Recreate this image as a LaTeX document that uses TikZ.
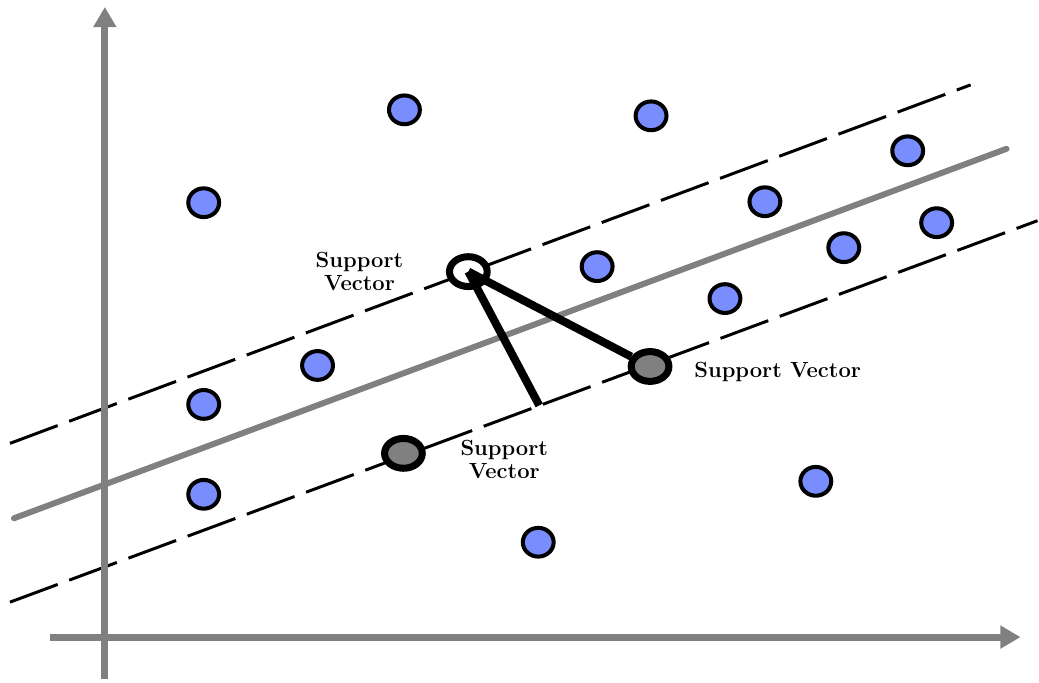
\documentclass[tikz,border=0pt]{standalone}
\usetikzlibrary{shapes,arrows.meta,positioning}
\definecolor{pointblue}{RGB}{122,141,255}
\tikzset{axis/.style={draw=gray,line width=4pt,-{Triangle[length=11.5pt,width=12.5pt]}}}
\tikzset{hyper/.style={draw=gray,line width=3.4pt,line cap=round}}
\tikzset{margin/.style={draw=black,line width=1.7pt,dash pattern=on 29pt off 7pt}}
\tikzset{dist/.style={draw=black,line width=4.6pt}}
\tikzset{point/.style={ellipse,draw,line width=2.3pt,fill=pointblue,inner sep=0pt,minimum width=17.6pt,minimum height=16.4pt}}
\tikzset{sv/.style={ellipse,draw,line width=4pt,inner sep=0pt,minimum width=21.5pt,minimum height=17pt}}
\tikzset{svtext/.style={align=center,font=\bfseries\fontsize{12.5}{13}\selectfont,inner sep=0pt}}

\begin{document}
\begin{tikzpicture}[x=0.02cm,y=-0.02cm]
    \fill[white] (0,0) rectangle (1039,681);

    % margins and separating line
    \path[margin] (10,444) -- (972,85);
    \path[margin] (10,603) -- (1039,221);
    \path[hyper] (14,519) -- (1008,149);

    % axes
    \path[axis] (105,680) -- (105,7);
    \path[axis] (50,638) -- (1022,638);

    % data points
    \node[point] (p1) at (405,110) {};
    \node[point] (p2) at (652,116) {};
    \node[point] (p3) at (204,203) {};
    \node[point] (p4) at (909,151) {};
    \node[point] (p5) at (766,202) {};
    \node[point] (p6) at (938,223) {};
    \node[point] (p7) at (845,248) {};
    \node[point] (p8) at (598,267) {};
    \node[point] (p9) at (726,299) {};
    \node[point] (p10) at (318,366) {};
    \node[point] (p11) at (204,405) {};
    \node[point] (p12) at (204,495) {};
    \node[point] (p13) at (817,482) {};
    \node[point] (p14) at (539,543) {};

    % support vectors
    \node[sv,fill=white] (sv1) at (469,272) {};
    \node[sv,fill=gray] (sv2) at (651,367) {};
    \node[sv,fill=gray] (sv3) at (404,454) {};
    \coordinate (foot) at (540,406);

    \path[dist] (sv1.center) -- (sv2);
    \path[dist] (sv1.center) -- (foot);

    \node[svtext] (t1) at (360,272) {Support\\Vector};
    \node[svtext,anchor=west] (t2) at (695,373) {Support Vector};
    \node[svtext] (t3) at (505,460) {Support\\Vector};
\end{tikzpicture}
\end{document}
